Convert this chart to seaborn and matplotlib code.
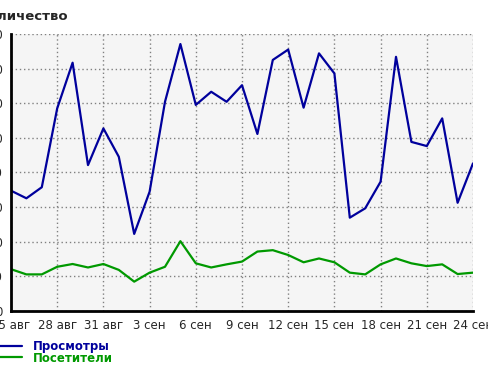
import pandas as pd
import matplotlib
matplotlib.use("Agg")
import matplotlib.pyplot as plt
import seaborn as sns

# daily counts, 25 Aug - 24 Sep
dates = pd.date_range("2023-08-25", "2023-09-24", freq="D")
views = [34.7, 32.5, 35.7, 58.5, 71.7, 42.1, 52.7, 44.5, 22.2, 34.4,
         60.4, 77.1, 59.5, 63.3, 60.4, 65.2, 51.1, 72.5, 75.5, 58.7,
         74.4, 68.6, 26.9, 29.6, 37.3, 73.4, 48.8, 47.6, 55.6, 31.2, 42.6]
visitors = [12.0, 10.5, 10.5, 12.7, 13.5, 12.5, 13.5, 11.8, 8.4, 11.0,
            12.7, 20.1, 13.7, 12.5, 13.4, 14.2, 17.1, 17.5, 16.1, 14.0,
            15.1, 14.0, 11.0, 10.5, 13.4, 15.1, 13.7, 12.9, 13.4, 10.6, 11.0]
tick_labels = ["25 авг", "28 авг", "31 авг", "3 сен", "6 сен", "9 сен",
               "12 сен", "15 сен", "18 сен", "21 сен", "24 сен"]
y_ticks = [0, 10, 20, 30, 40, 50, 60, 70, 80]

blue = "#00009c"
green = "#009900"

df = pd.DataFrame({"date": dates, "Просмотры": views, "Посетители": visitors})
long_df = df.melt(id_vars="date", var_name="series", value_name="count")

sns.set_style("white")
fig = plt.figure(figsize=(4.89, 3.70), dpi=100)
ax = fig.add_axes([11 / 489, 1 - 310.7 / 370, 462 / 489, 276.7 / 370])
ax.set_facecolor("#f5f5f5")

sns.lineplot(data=long_df, x="date", y="count", hue="series",
             palette={"Просмотры": blue, "Посетители": green},
             linewidth=1.6, legend=False, ax=ax)

ax.set_xlim(dates[0], dates[-1])
ax.set_ylim(0, 80)
ax.set_xticks(dates[::3])
ax.set_xticklabels(tick_labels, fontsize=8.5)
ax.set_yticks(y_ticks)
ax.set_yticklabels([str(v) for v in y_ticks], fontsize=8.5)
ax.set_xlabel("")
ax.set_ylabel("")

ax.grid(True, color="#808080", linestyle=(0, (1, 2)), linewidth=1)
for s in ["top", "right"]:
    ax.spines[s].set_visible(False)
for s in ["left", "bottom"]:
    ax.spines[s].set_color("black")
    ax.spines[s].set_linewidth(2)
ax.tick_params(axis="both", direction="out", length=4, width=1, color="black", pad=2)

fig.text(-0.045, 0.955, "Количество", fontsize=9.5, fontweight="bold", ha="left", va="center")

handles = [plt.Line2D([], [], color=blue, lw=1.6), plt.Line2D([], [], color=green, lw=1.6)]
leg = fig.legend(handles, ["Просмотры", "Посетители"], loc="upper left",
                 bbox_to_anchor=(-0.028, 0.097), frameon=False,
                 prop={"weight": "bold", "size": 8.5}, handlelength=2.55,
                 handletextpad=0.93, labelspacing=-0.12, borderpad=0)
for txt, c in zip(leg.get_texts(), [blue, green]):
    txt.set_color(c)

fig.savefig("out.png", dpi=100)
